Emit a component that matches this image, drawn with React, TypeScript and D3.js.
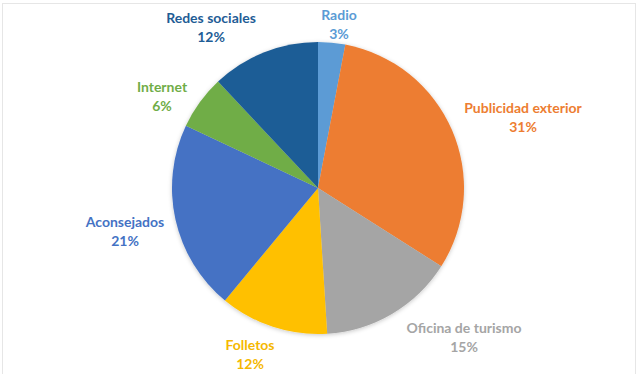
import React from "react";
import * as d3 from "d3";

const categories = ["Radio", "Publicidad exterior", "Oficina de turismo", "Folletos", "Aconsejados", "Internet", "Redes sociales"];
const values = [3, 31, 15, 12, 21, 6, 12];
const colors = ["#5B9BD5", "#ED7D31", "#A5A5A5", "#FFC000", "#4472C4", "#70AD47", "#1F5D96"];
const labelColors = ["#5B9BD5", "#ED7D31", "#A5A5A5", "#F5B800", "#4472C4", "#70AD47", "#1F5D96"];
// label anchor offsets from pie center (layout)
const labelOffsets: [number, number][] = [
  [21, -164], [205, -71], [146, 149], [-68, 166], [-193, 43], [-156, -92], [-107, -161],
];

const W = 639, H = 374;
const cx = 318, cy = 188, R = 146;

export default function App() {
  const total = d3.sum(values);
  const pie = d3.pie<number>().sort(null).value((d) => d);
  const arcs = pie(values);
  const arc = d3.arc<d3.PieArcDatum<number>>().innerRadius(0).outerRadius(R);
  return (
    <svg width={W} height={H} style={{ position: "absolute", left: 0, top: 0, background: "#fff" }}>
      <defs>
        <filter id="sh" x="-20%" y="-20%" width="140%" height="140%">
          <feDropShadow dx="0" dy="1" stdDeviation="2" floodColor="#000" floodOpacity="0.22" />
        </filter>
      </defs>
      <rect x={2.5} y={3.5} width={633} height={380} fill="#fff" stroke="#e6e6e6" strokeWidth={1} />
      <g transform={`translate(${cx},${cy})`}>
        <g filter="url(#sh)">
          {arcs.map((a, i) => (
            <path key={i} d={arc(a) || ""} fill={colors[i]} />
          ))}
        </g>
        {arcs.map((a, i) => {
          const [dx, dy] = labelOffsets[i];
          const pct = d3.format(".0%")(values[i] / total);
          return (
            <text key={i} x={dx} y={dy} textAnchor="middle" fill={labelColors[i]}
              style={{ fontFamily: "Lato, 'Open Sans', sans-serif", fontWeight: 700, fontSize: "14px" }}>
              <tspan x={dx} dy={-4}>{categories[i]}</tspan>
              <tspan x={dx} dy={19}>{pct}</tspan>
            </text>
          );
        })}
      </g>
    </svg>
  );
}
